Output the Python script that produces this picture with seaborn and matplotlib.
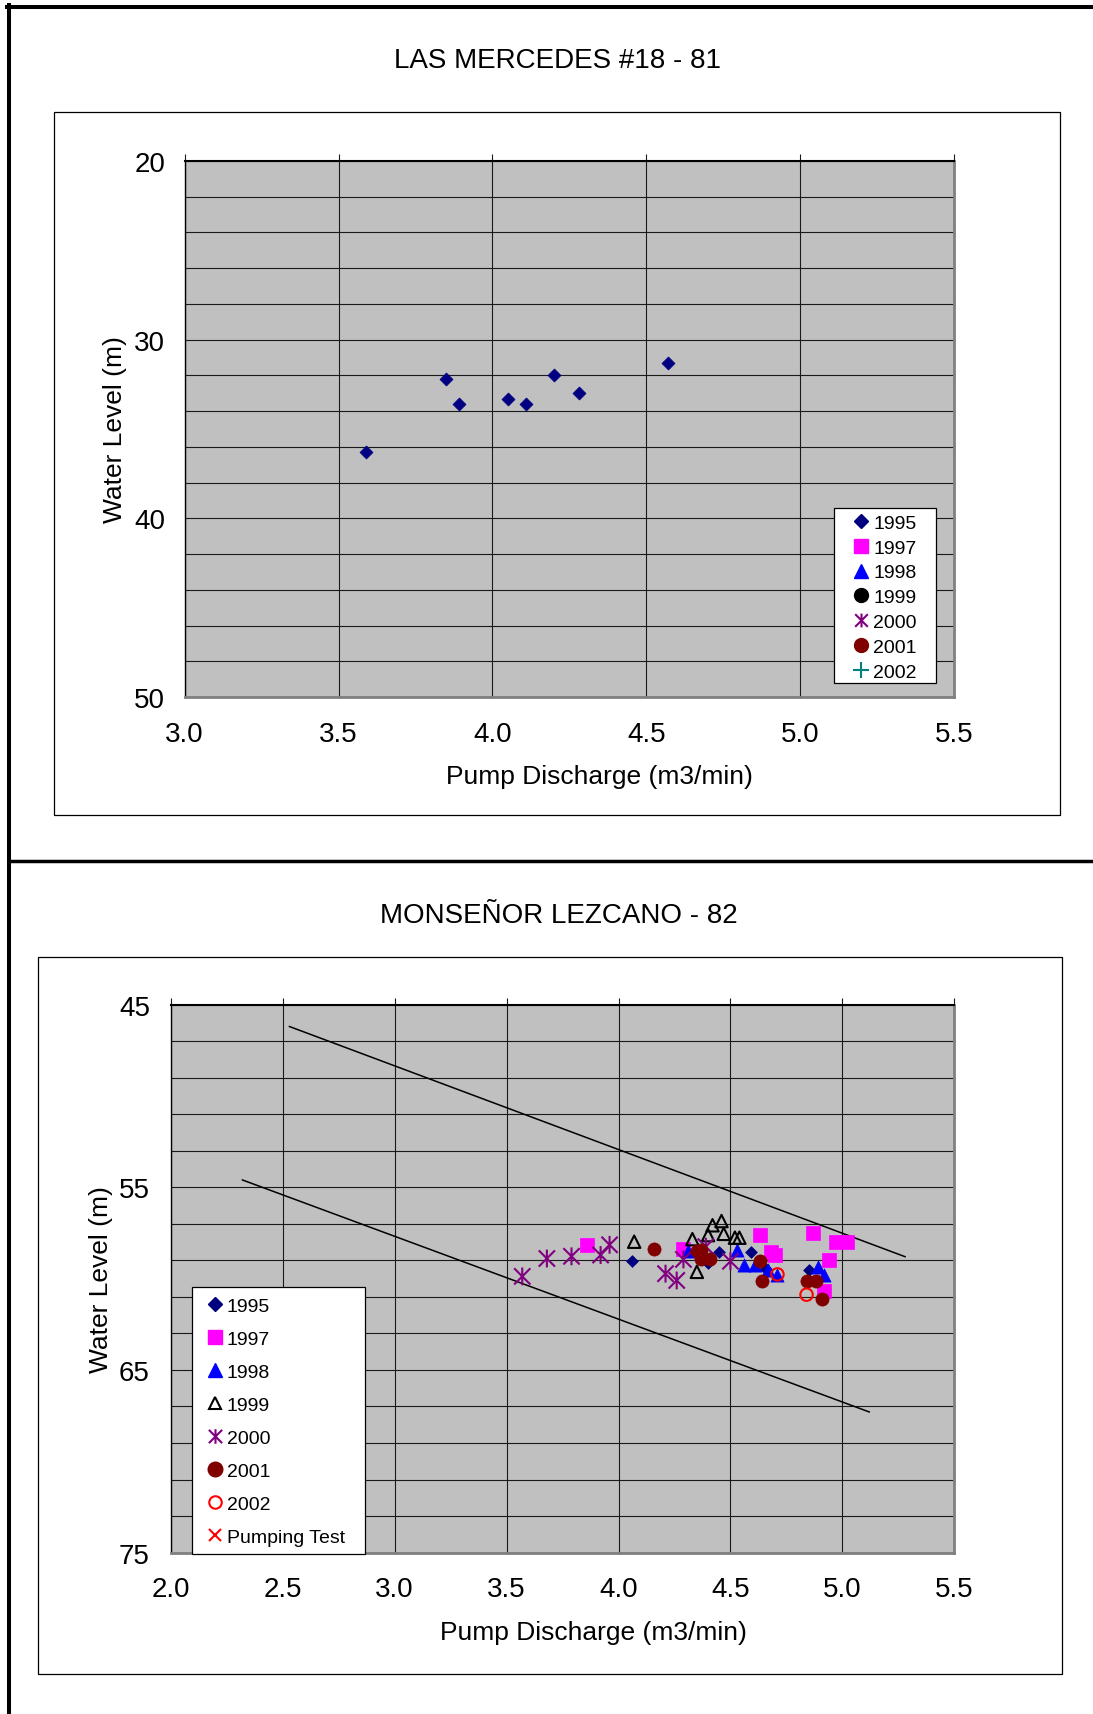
import numpy as np
import pandas as pd
import matplotlib
matplotlib.use("Agg")
import matplotlib.pyplot as plt
import seaborn as sns
from matplotlib.lines import Line2D
from matplotlib.patches import Rectangle
from matplotlib.path import Path
from matplotlib.ticker import FixedLocator, FormatStrFormatter, MultipleLocator

plt.rcParams['font.family'] = ['Liberation Sans', 'DejaVu Sans']


# DATA - LAS MERCEDES #18 - 81
lm_title = "LAS MERCEDES #18 - 81"
lm_years = ['1995', '1997', '1998', '1999', '2000', '2001', '2002']
lm_q_1995 = [3.59, 3.85, 3.89, 4.05, 4.11, 4.20, 4.28, 4.57]
lm_wl_1995 = [36.3, 32.2, 33.6, 33.3, 33.6, 32.0, 33.0, 31.3]
lm_yticks = [20, 30, 40, 50]
lm_xlim = [3.0, 5.5]

# DATA - MONSENOR LEZCANO - 82
ml_title = "MONSEÑOR LEZCANO - 82"
ml_years = ['1995', '1997', '1998', '1999', '2000', '2001', '2002', 'Pumping Test']
ml_q_1995 = [4.06, 4.40, 4.45, 4.59, 4.66, 4.85]
ml_wl_1995 = [59.05, 59.15, 58.55, 58.57, 59.47, 59.55]
ml_q_1997 = [3.86, 4.29, 4.63, 4.68, 4.70, 4.87, 4.97, 5.02, 4.94, 4.92]
ml_wl_1997 = [58.18, 58.40, 57.62, 58.57, 58.72, 57.48, 58.02, 57.98, 59.00, 60.70]
ml_q_1998 = [4.31, 4.53, 4.56, 4.61, 4.67, 4.71, 4.89, 4.92]
ml_wl_1998 = [58.48, 58.44, 59.26, 59.26, 59.55, 59.79, 59.36, 59.83]
ml_q_1999 = [4.07, 4.33, 4.35, 4.40, 4.42, 4.46, 4.47, 4.52, 4.54]
ml_wl_1999 = [57.98, 57.84, 59.63, 57.62, 57.08, 56.85, 57.55, 57.76, 57.76]
ml_q_2000 = [3.57, 3.68, 3.79, 3.92, 3.96, 4.21, 4.26, 4.29, 4.39, 4.50]
ml_wl_2000 = [59.88, 58.90, 58.78, 58.71, 58.15, 59.73, 60.10, 58.95, 58.25, 59.05]
ml_q_2001 = [4.16, 4.35, 4.37, 4.37, 4.41, 4.63, 4.64, 4.84, 4.88, 4.91]
ml_wl_2001 = [58.40, 58.50, 58.44, 58.90, 58.93, 59.04, 60.14, 60.13, 60.13, 61.12]
ml_q_2002 = [4.71, 4.84]
ml_wl_2002 = [59.77, 60.88]
ml_upper_q = [2.53, 5.28]
ml_upper_wl = [46.2, 58.8]
ml_lower_q = [2.32, 5.12]
ml_lower_wl = [54.6, 67.3]
ml_yticks = [45, 55, 65, 75]
ml_xlim = [2.0, 5.5]


# COLORS / MARKERS
navy = '#000080'
magenta = '#FF00FF'
blue = '#0000FF'
purple = '#800080'
darkred = '#800000'
teal = '#008080'
red = '#FF0000'
star = Path([(-0.5, -0.5), (0.5, 0.5), (-0.5, 0.5), (0.5, -0.5), (0, -0.55), (0, 0.55)],
            [Path.MOVETO, Path.LINETO] * 3)

W, H = 1093, 1715


def fx(px):
    return px / W


def fy(py):
    return 1 - py / H


# FIGURE
fig = plt.figure(figsize=(W / 100, H / 100), dpi=100)

# outer page lines
fig.add_artist(Line2D([fx(6.5), 1], [fy(7.7), fy(7.7)], color='black', lw=2.9))
fig.add_artist(Line2D([fx(8.7), fx(8.7)], [0, fy(5.8)], color='black', lw=2.9))
fig.add_artist(Line2D([fx(8.7), 1], [fy(861.7), fy(861.7)], color='black', lw=2.5))

# chart frames
fig.add_artist(Rectangle((fx(53.6), fy(816)), (1060 - 53.6) / W, (816 - 112.7) / H,
                         transform=fig.transFigure, fill=False, ec='black', lw=0.9))
fig.add_artist(Rectangle((fx(38.3), fy(1674.6)), (1061.6 - 38.3) / W, (1674.6 - 957.6) / H,
                         transform=fig.transFigure, fill=False, ec='black', lw=0.9))

ax1 = fig.add_axes([fx(184.7), fy(698), 769.3 / W, 536 / H])
ax2 = fig.add_axes([fx(170.8), fy(1553.6), 783.5 / W, 548 / H])


def style_axes(ax, xlim, yticks, xpad, ypad):
    ax.set_facecolor('#C0C0C0')
    ax.set_xlim(xlim[0], xlim[1])
    ax.set_ylim(yticks[-1], yticks[0])
    ax.xaxis.set_major_locator(MultipleLocator(0.5))
    ax.xaxis.set_major_formatter(FormatStrFormatter('%.1f'))
    ax.yaxis.set_major_locator(FixedLocator(yticks))
    ax.yaxis.set_minor_locator(FixedLocator(list(range(yticks[0], yticks[-1] + 1, 2))))
    ax.grid(which='major', axis='x', color='#1a1a1a', lw=0.8)
    ax.grid(which='both', axis='y', color='#1a1a1a', lw=0.8)
    ax.set_axisbelow(True)
    ax.tick_params(axis='x', which='major', top=True, bottom=False, labeltop=False,
                   labelbottom=True, direction='out', length=5, width=0.8,
                   color='#1a1a1a', pad=xpad, labelsize=20)
    ax.tick_params(axis='y', which='both', left=False, right=False, length=0,
                   pad=ypad, labelsize=20)
    ax.spines['top'].set_color('black')
    ax.spines['top'].set_linewidth(1.5)
    ax.spines['left'].set_color('black')
    ax.spines['left'].set_linewidth(1.0)
    for s in ['right', 'bottom']:
        ax.spines[s].set_color('#808080')
        ax.spines[s].set_linewidth(2.0)


# TOP CHART
sns.scatterplot(x=lm_q_1995, y=lm_wl_1995, ax=ax1, marker='D', s=44,
                color=navy, edgecolor=navy, linewidth=0.5, zorder=3, legend=False)
style_axes(ax1, lm_xlim, lm_yticks, 12, 14)
ax1.set_xlabel("Pump Discharge (m3/min)", fontsize=19)
ax1.set_ylabel("Water Level (m)", fontsize=19)
ax1.xaxis.set_label_coords(0.539, -0.1474)
ax1.xaxis.label.set_va('center')
ax1.yaxis.set_label_coords(-0.0906, 0.5)
ax1.yaxis.label.set_va('center')

top_handles = [
    Line2D([], [], ls='none', marker='D', ms=7, mfc=navy, mec=navy),
    Line2D([], [], ls='none', marker='s', ms=10, mfc=magenta, mec=magenta),
    Line2D([], [], ls='none', marker='^', ms=10, mfc=blue, mec=blue),
    Line2D([], [], ls='none', marker='o', ms=10, mfc='black', mec='black'),
    Line2D([], [], ls='none', marker=star, ms=10, mfc='none', mec=purple, mew=1.5),
    Line2D([], [], ls='none', marker='o', ms=10, mfc=darkred, mec=darkred),
    Line2D([], [], ls='none', marker='+', ms=11, mec=teal, mew=1.5),
]
ax1.add_patch(Rectangle((0.8444, 0.0267), 0.1318, 0.3253, transform=ax1.transAxes,
                        fc='white', ec='black', lw=0.9, zorder=4, clip_on=False))
leg1 = ax1.legend(top_handles, lm_years, loc='upper left', bbox_to_anchor=(0.870, 0.341),
                  frameon=False, fontsize=14, borderpad=0, borderaxespad=0,
                  handlelength=0.75, handletextpad=0.25, labelspacing=0.37)
leg1.set_zorder(5)

# BOTTOM CHART
sns.lineplot(x=ml_upper_q, y=ml_upper_wl, ax=ax2, color='black', lw=1.1, zorder=2, errorbar=None)
sns.lineplot(x=ml_lower_q, y=ml_lower_wl, ax=ax2, color='black', lw=1.1, zorder=2, errorbar=None)

sns.scatterplot(x=ml_q_1995, y=ml_wl_1995, ax=ax2, marker='D', s=36,
                color=navy, edgecolor=navy, linewidth=0.5, zorder=3, legend=False)
sns.scatterplot(x=ml_q_1997, y=ml_wl_1997, ax=ax2, marker='s', s=90,
                color=magenta, edgecolor=magenta, linewidth=0.5, zorder=3, legend=False)
sns.scatterplot(x=ml_q_1998, y=ml_wl_1998, ax=ax2, marker='^', s=90,
                color=blue, edgecolor=blue, linewidth=0.5, zorder=3, legend=False)
sns.scatterplot(x=ml_q_1999, y=ml_wl_1999, ax=ax2, marker='^', s=80,
                facecolor='none', edgecolor='black', linewidth=1.5, zorder=3, legend=False)
sns.scatterplot(x=ml_q_2000, y=ml_wl_2000, ax=ax2, marker=star, s=165,
                facecolor='none', edgecolor=purple, linewidth=1.5, zorder=3, legend=False)
sns.scatterplot(x=ml_q_2001, y=ml_wl_2001, ax=ax2, marker='o', s=90,
                color=darkred, edgecolor=darkred, linewidth=0.5, zorder=3, legend=False)
sns.scatterplot(x=ml_q_2002, y=ml_wl_2002, ax=ax2, marker='o', s=80,
                facecolor='none', edgecolor=red, linewidth=1.5, zorder=3, legend=False)

style_axes(ax2, ml_xlim, ml_yticks, 11.5, 15)
ax2.set_xlabel("Pump Discharge (m3/min)", fontsize=19)
ax2.set_ylabel("Water Level (m)", fontsize=19)
ax2.xaxis.set_label_coords(0.540, -0.1442)
ax2.xaxis.label.set_va('center')
ax2.yaxis.set_label_coords(-0.0893, 0.5)
ax2.yaxis.label.set_va('center')

bottom_handles = [
    Line2D([], [], ls='none', marker='D', ms=7.5, mfc=navy, mec=navy),
    Line2D([], [], ls='none', marker='s', ms=10.5, mfc=magenta, mec=magenta),
    Line2D([], [], ls='none', marker='^', ms=10.5, mfc=blue, mec=blue),
    Line2D([], [], ls='none', marker='^', ms=9, mfc='none', mec='black', mew=1.5),
    Line2D([], [], ls='none', marker=star, ms=10.5, mfc='none', mec=purple, mew=1.5),
    Line2D([], [], ls='none', marker='o', ms=10.5, mfc=darkred, mec=darkred),
    Line2D([], [], ls='none', marker='o', ms=9, mfc='none', mec=red, mew=1.5),
    Line2D([], [], ls='none', marker='x', ms=9, mec=red, mew=1.5),
]
ax2.add_patch(Rectangle((0.0267, -0.0026), 0.2215, 0.4867, transform=ax2.transAxes,
                        fc='white', ec='black', lw=0.9, zorder=4, clip_on=False))
leg2 = ax2.legend(bottom_handles, ml_years, loc='upper left', bbox_to_anchor=(0.0468, 0.466),
                  frameon=False, fontsize=14, borderpad=0, borderaxespad=0,
                  handlelength=0.75, handletextpad=0.25, labelspacing=0.79)
leg2.set_zorder(5)

# TITLES
fig.text(fx(558), fy(61.5), lm_title, ha='center', va='center', fontsize=20)
fig.text(fx(558.5), fy(916), ml_title, ha='center', va='center', fontsize=20)

fig.savefig('out.png', dpi=100)
